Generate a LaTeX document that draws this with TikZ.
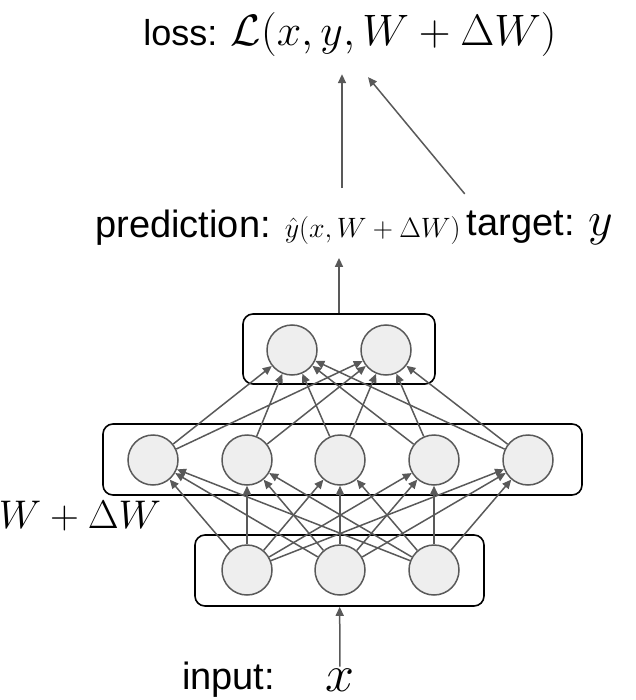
\RequirePackage{fix-cm}
\documentclass[tikz,border=0pt]{standalone}
\usepackage[no-math]{fontspec}
\newfontfamily\labelfont{Liberation Sans}
\usetikzlibrary{arrows.meta, positioning}
\definecolor{edgegray}{HTML}{595959}
\definecolor{unitfill}{HTML}{EEEEEE}

\begin{document}
\begin{tikzpicture}[
    x=1pt, y=-1pt,
    unit/.style={circle, draw=edgegray, fill=unitfill, line width=1.5pt, minimum size=50pt, inner sep=0pt},
    layer/.style={rectangle, draw, rounded corners=10pt, line width=1.6pt},
    link/.style={draw=edgegray, line width=1.5pt, -{Triangle[length=9pt, width=8pt]}},
    lbl/.style={font=\labelfont\fontsize{38}{42}\selectfont, inner sep=0pt}
  ]
    \useasboundingbox (0,0) rectangle (635,700);
    % layers
    \node[layer, minimum width=192pt, minimum height=70pt] (out) at (339,349) {};
    \node[layer, minimum width=479pt, minimum height=71pt] (hid) at (342.5,459.5) {};
    \node[layer, minimum width=289pt, minimum height=71pt] (in) at (339.5,570.5) {};
    % units
    \foreach \x [count=\i] in {247,340,434} \node[unit] (i\i) at (\x,570) {};
    \foreach \x [count=\i] in {153,247,340,434,528} \node[unit] (h\i) at (\x,460) {};
    \foreach \x [count=\i] in {292,386} \node[unit] (o\i) at (\x,350) {};
    \foreach \a in {1,2,3} \foreach \b in {1,...,5} \draw[link] (i\a) -- (h\b);
    \foreach \a in {1,...,5} \foreach \b in {1,2} \draw[link] (h\a) -- (o\b);
    % labels
    \node[lbl, font=\labelfont\fontsize{36}{40}\selectfont] (loss) at (350,35) {loss: {\fontsize{44}{48}\selectfont$\mathcal{L}(x,y,W+\Delta W)$}};
    \node[lbl] (pred) at (278,228) {prediction: {\fontsize{28}{32}\selectfont$\hat{y}(x,W+\Delta W)$}};
    \node[lbl, right=6pt of pred] (tgt) {target: {\fontsize{48}{52}\selectfont$y$}};
    \node[font=\fontsize{52}{56}\selectfont, inner sep=2pt] (xin) at (340,680) {$x$};
    \node[lbl, left=48pt of xin] (inp) {input:};
    \node[font=\fontsize{40}{44}\selectfont, inner sep=0pt] (wlbl) at (80,516) {$W+\Delta W$};
    \draw[link] (xin) -- (in);
    \draw[link, shorten >=12pt] (out.north) -- (out.north |- pred.south);
    \draw[link, shorten <=22pt, shorten >=17pt] ([xshift=3pt]pred.north -| out.north) -- ([xshift=3pt]loss.south -| out.north);
    \draw[link] ([shift={(-2,-17)}]tgt.north west) -- ([shift={(18,20)}]loss.south);
  \end{tikzpicture}
\end{document}
